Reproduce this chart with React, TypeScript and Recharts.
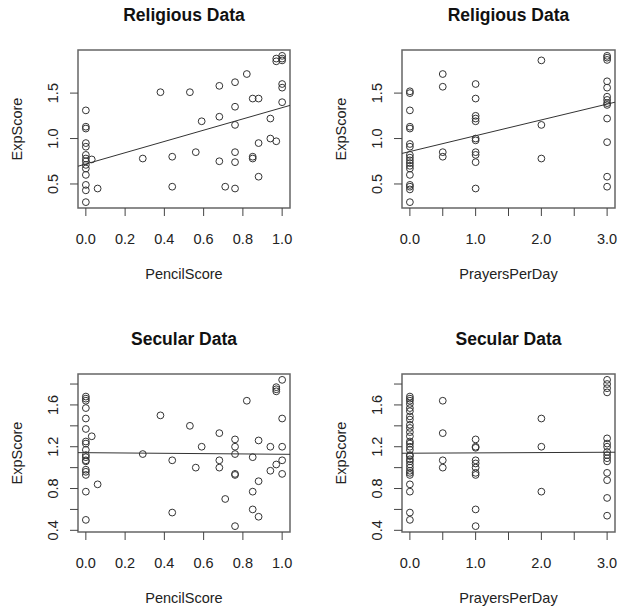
import React from 'react';
import { ScatterChart, Scatter, XAxis, YAxis, ReferenceArea, ReferenceLine } from 'recharts';

// Religious sample
const relPencilScore = [
    0, 0, 0, 0, 0, 0, 0, 0, 0, 0, 0, 0, 0, 0,
    0.03, 0.06, 0.29, 0.38, 0.44, 0.44, 0.53, 0.56, 0.59, 0.68, 0.68, 0.68, 0.71,
    0.76, 0.76, 0.76, 0.76, 0.76, 0.76, 0.82, 0.85, 0.85, 0.85, 0.88, 0.88, 0.88,
    0.94, 0.94, 0.97, 0.97, 0.97, 1.0, 1.0, 1.0, 1.0, 1.0, 1.0,
];
const relPencilExp = [
    0.30, 0.43, 0.49, 0.60, 0.67, 0.71, 0.75, 0.78, 0.82, 0.91, 0.95, 1.11, 1.13, 1.31,
    0.77, 0.45, 0.78, 1.51, 0.80, 0.47, 1.51, 0.85, 1.19, 1.24, 0.75, 1.58, 0.47,
    1.62, 1.35, 1.15, 0.85, 0.74, 0.45, 1.71, 1.44, 0.80, 0.78, 1.44, 0.95, 0.58,
    1.22, 1.00, 0.97, 1.85, 1.88, 1.88, 1.91, 1.86, 1.60, 1.56, 1.40,
];
const relPrayers = [
    0, 0, 0, 0, 0, 0, 0, 0, 0, 0, 0, 0, 0, 0, 0, 0, 0, 0,
    0.5, 0.5, 0.5, 0.5,
    1, 1, 1, 1, 1, 1, 1, 1, 1, 1, 1,
    2, 2, 2,
    3, 3, 3, 3, 3, 3, 3, 3, 3, 3, 3, 3, 3,
];
const relPrayersExp = [
    1.52, 1.50, 1.31, 1.13, 1.11, 0.94, 0.91, 0.82, 0.79, 0.76, 0.73, 0.70, 0.67, 0.60, 0.49, 0.47, 0.44, 0.30,
    1.71, 1.57, 0.85, 0.80,
    1.60, 1.44, 1.25, 1.22, 1.19, 1.00, 0.98, 0.85, 0.82, 0.74, 0.45,
    1.86, 1.15, 0.78,
    1.91, 1.89, 1.865, 1.63, 1.56, 1.46, 1.425, 1.39, 1.37, 1.22, 0.96, 0.58, 0.47,
];

// Secular sample
const secPencilScore = [
    0, 0, 0, 0, 0, 0, 0, 0, 0, 0, 0, 0, 0, 0, 0, 0, 0, 0,
    0.03, 0.06, 0.29, 0.38, 0.44, 0.44, 0.53, 0.56, 0.59, 0.68, 0.68, 0.68, 0.71,
    0.76, 0.76, 0.76, 0.76, 0.76, 0.76, 0.82, 0.85, 0.85, 0.85, 0.88, 0.88, 0.88,
    0.94, 0.94, 0.97, 0.97, 0.97, 0.97, 1.0, 1.0, 1.0, 1.0, 1.0,
];
const secPencilExp = [
    1.68, 1.66, 1.64, 1.57, 1.47, 1.37, 1.25, 1.23, 1.17, 1.12, 1.10, 1.07, 1.06, 0.98, 0.96, 0.93, 0.77, 0.50,
    1.30, 0.84, 1.13, 1.50, 1.07, 0.57, 1.40, 1.00, 1.20, 1.33, 1.07, 1.00, 0.70,
    1.27, 1.20, 1.13, 0.94, 0.93, 0.44, 1.64, 1.10, 0.77, 0.60, 1.26, 0.87, 0.53,
    1.20, 0.97, 1.03, 1.77, 1.75, 1.73, 1.84, 1.47, 1.20, 1.07, 0.94,
];
const secPrayers = [
    0, 0, 0, 0, 0, 0, 0, 0, 0, 0, 0, 0, 0, 0, 0, 0, 0, 0, 0, 0, 0, 0, 0, 0, 0, 0, 0, 0, 0,
    0.5, 0.5, 0.5, 0.5,
    1, 1, 1, 1, 1, 1, 1, 1, 1, 1,
    2, 2, 2,
    3, 3, 3, 3, 3, 3, 3, 3, 3, 3, 3, 3, 3, 3, 3,
];
const secPrayersExp = [
    1.68, 1.66, 1.64, 1.61, 1.57, 1.54, 1.49, 1.46, 1.41, 1.38, 1.34, 1.30, 1.25, 1.23, 1.20,
    1.17, 1.12, 1.11, 1.08, 1.06, 1.03, 1.00, 0.97, 0.95, 0.93, 0.84, 0.77, 0.57, 0.50,
    1.64, 1.33, 1.07, 1.00,
    1.27, 1.20, 1.19, 1.07, 1.04, 1.00, 0.95, 0.93, 0.60, 0.44,
    1.47, 1.20, 0.77,
    1.84, 1.80, 1.76, 1.72, 1.28, 1.23, 1.20, 1.15, 1.12, 1.09, 1.06, 0.95, 0.88, 0.71, 0.54,
];

// fitted lines as drawn: [intercept, slope]
const relPencilFit = [0.72, 0.62];
const relPrayersFit = [0.857, 0.174];
const secPencilFit = [1.143, -0.015];
const secPrayersFit = [1.138, 0.003];

const pencilTicks = [0, 0.2, 0.4, 0.6, 0.8, 1.0];
const pencilLabels = [0, 0.2, 0.4, 0.6, 0.8, 1.0];
const prayerTicks = [0, 0.5, 1, 1.5, 2, 2.5, 3];
const prayerLabels = [0, 1, 2, 3];
const relExpTicks = [0.5, 1.0, 1.5];
const relExpLabels = [0.5, 1.0, 1.5];
const secExpTicks = [0.4, 0.6, 0.8, 1.0, 1.2, 1.4, 1.6, 1.8];
const secExpLabels = [0.4, 0.8, 1.2, 1.6];

const FONT = '"Liberation Sans", Arial, Helvetica, sans-serif';
const INK = '#222';

// R pads the data range by 4% on each side
const rRange = (v: number[]): [number, number] => {
    const lo = Math.min(...v);
    const hi = Math.max(...v);
    const r = hi - lo;
    return [lo - 0.04 * r, hi + 0.04 * r];
};

const ring = (props: any) => (
    <circle cx={props.cx} cy={props.cy} r={3.4} fill="none" stroke="#333" strokeWidth={1} />
);

interface PanelProps {
    left: number;
    top: number;
    axisW: number;
    rightM: number;
    title: string;
    xLabel: string;
    xs: number[];
    ys: number[];
    xTicks: number[];
    xLabels: number[];
    yTicks: number[];
    yLabels: number[];
    fit: number[];
}

const Panel: React.FC<PanelProps> = ({ left, top, axisW, rightM, title, xLabel, xs, ys, xTicks, xLabels, yTicks, yLabels, fit }) => {
    const data = xs.map((x, i) => ({ x, y: ys[i] }));
    const xd = rRange(xs);
    const yd = rRange(ys);
    const seg = [
        { x: xd[0], y: fit[0] + fit[1] * xd[0] },
        { x: xd[1], y: fit[0] + fit[1] * xd[1] },
    ];

    const xTick = (p: any) => {
        if (!xLabels.includes(p.payload.value)) return <g />;
        return (
            <text x={p.x} y={p.y} textAnchor="middle" dominantBaseline="central" fontSize={14.5} fill={INK} fontFamily={FONT}>
                {p.payload.value.toFixed(1)}
            </text>
        );
    };
    const yTick = (p: any) => {
        if (!yLabels.includes(p.payload.value)) return <g />;
        return (
            <text x={p.x} y={p.y} transform={`rotate(-90, ${p.x}, ${p.y})`} textAnchor="middle" dominantBaseline="central" fontSize={14.5} fill={INK} fontFamily={FONT}>
                {p.payload.value.toFixed(1)}
            </text>
        );
    };
    const xTitle = (p: any) => {
        const vb = p.viewBox;
        return (
            <text x={vb.x + vb.width / 2} y={vb.y + 66} textAnchor="middle" dominantBaseline="central" fontSize={14.5} fill={INK} fontFamily={FONT}>
                {xLabel}
            </text>
        );
    };
    const yTitle = (p: any) => {
        const vb = p.viewBox;
        const cx = vb.x + vb.width - 61.5;
        const cy = vb.y + vb.height / 2;
        return (
            <text x={cx} y={cy} transform={`rotate(-90, ${cx}, ${cy})`} textAnchor="middle" dominantBaseline="central" fontSize={14.5} fill={INK} fontFamily={FONT}>
                ExpScore
            </text>
        );
    };
    const mainTitle = (p: any) => {
        const vb = p.viewBox;
        return (
            <text x={vb.x + vb.width / 2} y={vb.y - 35} textAnchor="middle" dominantBaseline="central" fontSize={17.5} fontWeight="bold" fill="#111" fontFamily={FONT}>
                {title}
            </text>
        );
    };

    return (
        <div style={{ position: 'absolute', left, top }}>
            <ScatterChart width={309} height={285} margin={{ top: 50, right: rightM, bottom: 0, left: 0 }}>
                <XAxis
                    type="number"
                    dataKey="x"
                    domain={xd}
                    allowDataOverflow
                    ticks={xTicks}
                    interval={0}
                    height={77}
                    axisLine={false}
                    tickLine={{ stroke: '#444' }}
                    tickSize={8}
                    tickMargin={23}
                    tick={xTick}
                    label={xTitle}
                />
                <YAxis
                    type="number"
                    dataKey="y"
                    domain={yd}
                    allowDataOverflow
                    ticks={yTicks}
                    interval={0}
                    width={axisW}
                    axisLine={false}
                    tickLine={{ stroke: '#444' }}
                    tickSize={8}
                    tickMargin={17}
                    tick={yTick}
                    label={yTitle}
                />
                <ReferenceArea
                    x1={xd[0]}
                    x2={xd[1]}
                    y1={yd[0]}
                    y2={yd[1]}
                    fill="none"
                    stroke="#666"
                    strokeWidth={1.5}
                    ifOverflow="visible"
                    label={mainTitle}
                />
                <ReferenceLine segment={seg} stroke="#333" strokeWidth={1} />
                <Scatter data={data} shape={ring} isAnimationActive={false} />
            </ScatterChart>
        </div>
    );
};

export default function App() {
    return (
        <div style={{ position: 'absolute', left: 0, top: 0, width: 618, height: 609, background: '#fff' }}>
            <Panel left={0} top={0} axisW={78} rightM={19} title="Religious Data" xLabel="PencilScore"
                xs={relPencilScore} ys={relPencilExp} xTicks={pencilTicks} xLabels={pencilLabels}
                yTicks={relExpTicks} yLabels={relExpLabels} fit={relPencilFit} />
            <Panel left={309} top={0} axisW={93} rightM={3} title="Religious Data" xLabel="PrayersPerDay"
                xs={relPrayers} ys={relPrayersExp} xTicks={prayerTicks} xLabels={prayerLabels}
                yTicks={relExpTicks} yLabels={relExpLabels} fit={relPrayersFit} />
            <Panel left={0} top={324} axisW={78} rightM={19} title="Secular Data" xLabel="PencilScore"
                xs={secPencilScore} ys={secPencilExp} xTicks={pencilTicks} xLabels={pencilLabels}
                yTicks={secExpTicks} yLabels={secExpLabels} fit={secPencilFit} />
            <Panel left={309} top={324} axisW={93} rightM={3} title="Secular Data" xLabel="PrayersPerDay"
                xs={secPrayers} ys={secPrayersExp} xTicks={prayerTicks} xLabels={prayerLabels}
                yTicks={secExpTicks} yLabels={secExpLabels} fit={secPrayersFit} />
        </div>
    );
}
